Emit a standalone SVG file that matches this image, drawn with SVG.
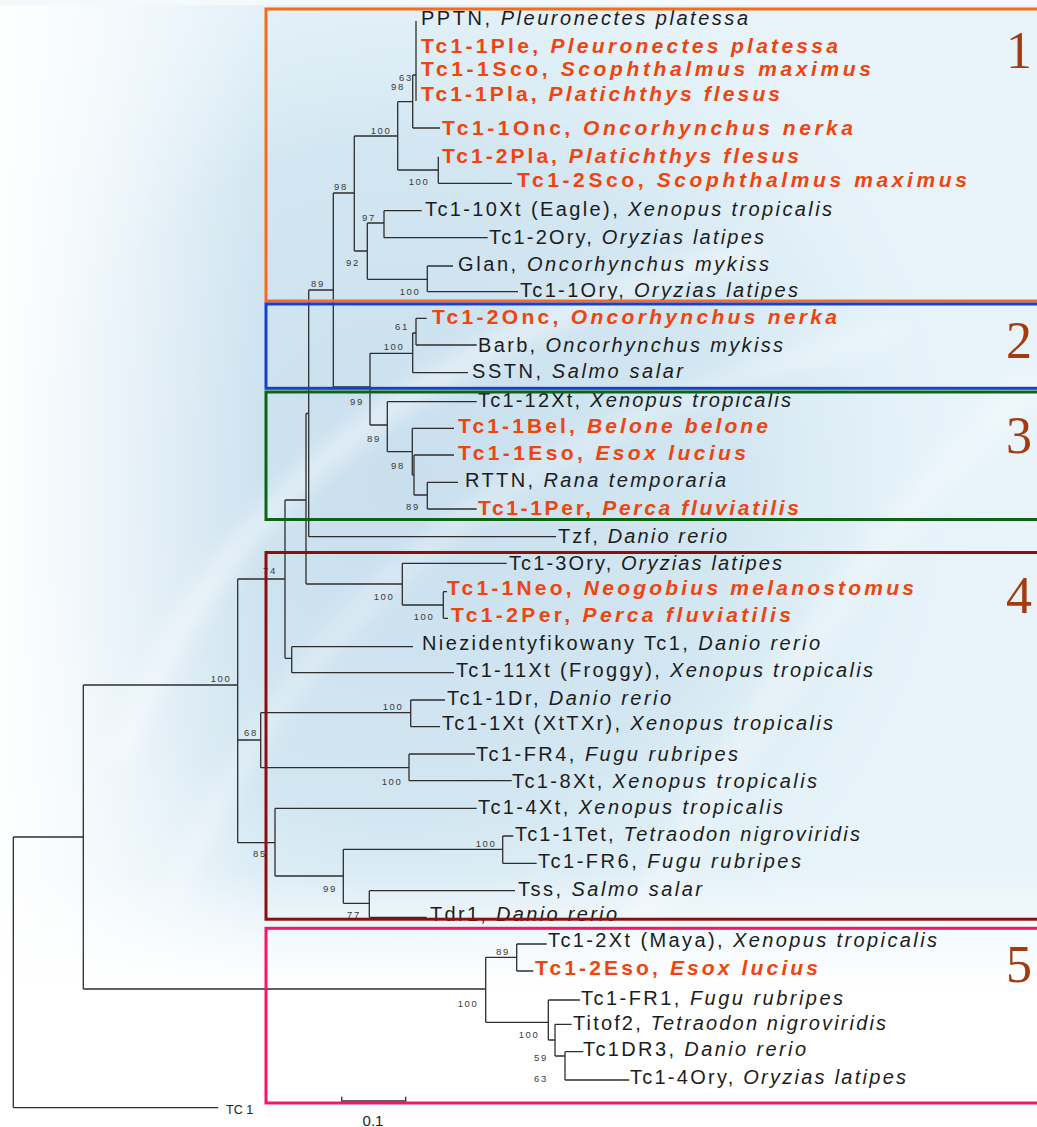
<svg xmlns="http://www.w3.org/2000/svg" width="1037" height="1127" viewBox="0 0 1037 1127">
<style>
.t{font-family:"Liberation Sans",Arial,sans-serif;font-size:20px;fill:#1c1c1c}
.r{font-weight:bold;fill:#f0440f;font-size:21px}
.i{font-style:italic}
.bs{font-family:"Liberation Sans",Arial,sans-serif;font-size:9.5px;fill:#3a3a3a;letter-spacing:1.6px;text-anchor:middle}
.num{font-family:"Liberation Serif","Times New Roman",serif;font-size:52px;fill:#a23c10;text-anchor:middle}
.br{fill:none;stroke:#2e2e2e;stroke-width:1.3}
.box{fill:none;stroke-width:3}
</style>
<defs>
<radialGradient id="glow" cx="400" cy="480" r="620" gradientUnits="userSpaceOnUse">
<stop offset="0" stop-color="#c9dfee"/>
<stop offset="0.55" stop-color="#d3e7f2"/>
<stop offset="1" stop-color="#e6f3f9" stop-opacity="0"/>
</radialGradient>
<linearGradient id="leftfade" x1="0" y1="0" x2="1" y2="0">
<stop offset="0" stop-color="#ffffff" stop-opacity="0.95"/>
<stop offset="0.4" stop-color="#ffffff" stop-opacity="0.6"/>
<stop offset="1" stop-color="#ffffff" stop-opacity="0"/>
</linearGradient>
<linearGradient id="botfade" x1="0" y1="0" x2="0" y2="1">
<stop offset="0" stop-color="#ffffff" stop-opacity="0"/>
<stop offset="1" stop-color="#ffffff" stop-opacity="1"/>
</linearGradient>
<filter id="blur" x="-20%" y="-20%" width="140%" height="140%"><feGaussianBlur stdDeviation="10"/></filter>
</defs>

<g id="background">
<rect x="0" y="0" width="1037" height="1127" fill="#e8f4fa"/>
<rect x="0" y="0" width="1037" height="1127" fill="url(#glow)"/>
<path d="M120 760 C 200 520, 420 330, 760 250" fill="none" stroke="#ffffff" stroke-opacity="0.45" stroke-width="22" filter="url(#blur)"/>
<path d="M170 900 C 300 600, 520 420, 900 330" fill="none" stroke="#ffffff" stroke-opacity="0.35" stroke-width="18" filter="url(#blur)"/>
<path d="M600 1000 C 750 700, 900 500, 1037 380" fill="none" stroke="#ffffff" stroke-opacity="0.3" stroke-width="30" filter="url(#blur)"/>
<rect x="0" y="0" width="260" height="1127" fill="url(#leftfade)"/>
<rect x="0" y="870" width="1037" height="120" fill="url(#botfade)"/>
<rect x="0" y="990" width="1037" height="137" fill="#ffffff"/>
<rect x="0" y="0" width="1037" height="5" fill="#f4f9fc"/>
</g>

<g id="connectors" class="br">
<path d="M416 21V101M412.7 75H416M412.7 75V128M412.7 128H440"/>
<path d="M397.7 101.7H412.7M397.7 101.7V170M397.7 170H438.3M438.3 156.7V183.3M438.3 183.3H512"/>
<path d="M354.3 136H397.7M354.3 136V251M354.3 251H367.3M367.3 223V279.3"/>
<path d="M367.3 223H384M384 210.7V237.7M384 210.7H421.7M384 237.7H487.7"/>
<path d="M367.3 279.3H427.3M427.3 266V291.7M427.3 266H453M427.3 291.7H518"/>
<path d="M333.3 193H354.3M333.3 193V387M333.3 387H370M370 353.3V425"/>
<path d="M370 353.3H412.7M412.7 333V372.7M412.7 333H416M416 318.3V345M416 318.3H426.7M416 345H476.7M412.7 372.7H468"/>
<path d="M370 425H387.3M387.3 401.7V451.7M387.3 401.7H476.7M387.3 451.7H412.3M412.3 428.3V475M412.3 428.3H454M412.3 475H414M414 455V495M414 455H454M414 495H427.3M427.3 482.3V509M427.3 482.3H458M427.3 509H476.7"/>
<path d="M308.7 290H333.3M308.7 290V536.7M308.7 536.7H556"/>
<path d="M306 413.5H308.7M306 413.5V584M306 584H402.3M402.3 563.3V605M402.3 563.3H506.7M402.3 605H443.3M443.3 591.7V618.3M443.3 591.7H447M443.3 618.3H448"/>
<path d="M285 500H306M285 500V658.3M285 658.3H291.7M291.7 646.7V672.7M291.7 646.7H413M291.7 672.7H454"/>
<path d="M237.7 579H285M237.7 579V842.7"/>
<path d="M237.7 740H260.7M260.7 712.7V767.7M260.7 712.7H410.7M410.7 700V726.7M410.7 700H445M410.7 726.7H440"/>
<path d="M260.7 767.7H409M409 754V780.7M409 754H475M409 780.7H511.7"/>
<path d="M237.7 842.7H275M275 808.3V876M275 808.3H476.7M275 876H343.3M343.3 849.3V903.3M343.3 849.3H502.7M502.7 836V863.3M502.7 836H513.3M502.7 863.3H536.7M343.3 903.3H369.3M369.3 890.7V917.3M369.3 890.7H515M369.3 917.3H426.7"/>
<path d="M83.3 685H237.7M83.3 685V989M83.3 989H485.7"/>
<path d="M485.7 957.3V1022.3M485.7 957.3H516.7M516.7 944V971M516.7 944H546.7M516.7 971H533.3"/>
<path d="M485.7 1022.3H548.3M548.3 1000V1040M548.3 1000H580M548.3 1040H555M555 1024.3V1056M555 1024.3H571.7M555 1056H565M565 1051.7V1080M565 1051.7H583.3M565 1080H629.3"/>
<path d="M13.3 837H83.3M13.3 837V1107.7M13.3 1107.7H218.3"/>
</g>

<g id="bootstrap">
<text class="bs" x="406" y="81">63</text>
<text class="bs" x="398" y="90">98</text>
<text class="bs" x="381" y="134">100</text>
<text class="bs" x="419" y="185">100</text>
<text class="bs" x="341" y="190">98</text>
<text class="bs" x="369" y="221">97</text>
<text class="bs" x="353" y="266">92</text>
<text class="bs" x="318" y="287">89</text>
<text class="bs" x="410" y="295">100</text>
<text class="bs" x="402" y="330">61</text>
<text class="bs" x="394" y="350">100</text>
<text class="bs" x="357" y="405">99</text>
<text class="bs" x="374" y="442">89</text>
<text class="bs" x="398" y="469">98</text>
<text class="bs" x="413" y="510">89</text>
<text class="bs" x="270" y="574">74</text>
<text class="bs" x="384" y="600">100</text>
<text class="bs" x="424" y="620">100</text>
<text class="bs" x="221" y="682">100</text>
<text class="bs" x="393" y="710">100</text>
<text class="bs" x="251" y="736">68</text>
<text class="bs" x="392" y="785">100</text>
<text class="bs" x="486" y="847">100</text>
<text class="bs" x="260" y="857">85</text>
<text class="bs" x="330" y="892">99</text>
<text class="bs" x="354" y="918">77</text>
<text class="bs" x="503" y="955">89</text>
<text class="bs" x="468" y="1007">100</text>
<text class="bs" x="529" y="1038">100</text>
<text class="bs" x="541" y="1061">59</text>
<text class="bs" x="541" y="1082">63</text>
</g>

<g id="leaves">
<g id="n-pptn"><text class="t" x="421" y="25" textLength="327" lengthAdjust="spacing">PPTN, <tspan class="i">Pleuronectes platessa</tspan></text></g>
<g id="n-tc1-1ple"><text class="t r" x="421" y="52.5" textLength="417" lengthAdjust="spacing">Tc1-1Ple, <tspan class="i">Pleuronectes platessa</tspan></text></g>
<g id="n-tc1-1sco"><text class="t r" x="421" y="75.5" textLength="450" lengthAdjust="spacing">Tc1-1Sco, <tspan class="i">Scophthalmus maximus</tspan></text></g>
<g id="n-tc1-1pla"><text class="t r" x="421" y="100.5" textLength="359" lengthAdjust="spacing">Tc1-1Pla, <tspan class="i">Platichthys flesus</tspan></text></g>
<g id="n-tc1-1onc"><text class="t r" x="442" y="135" textLength="411" lengthAdjust="spacing">Tc1-1Onc, <tspan class="i">Oncorhynchus nerka</tspan></text></g>
<g id="n-tc1-2pla"><text class="t r" x="442" y="163" textLength="357" lengthAdjust="spacing">Tc1-2Pla, <tspan class="i">Platichthys flesus</tspan></text></g>
<g id="n-tc1-2sco"><text class="t r" x="517" y="187" textLength="450" lengthAdjust="spacing">Tc1-2Sco, <tspan class="i">Scophthalmus maximus</tspan></text></g>
<g id="n-tc1-10xt"><text class="t" x="425" y="216" textLength="407" lengthAdjust="spacing">Tc1-10Xt (Eagle), <tspan class="i">Xenopus tropicalis</tspan></text></g>
<g id="n-tc1-2ory"><text class="t" x="489" y="243.5" textLength="275" lengthAdjust="spacing">Tc1-2Ory, <tspan class="i">Oryzias latipes</tspan></text></g>
<g id="n-glan"><text class="t" x="458" y="271" textLength="311" lengthAdjust="spacing">Glan, <tspan class="i">Oncorhynchus mykiss</tspan></text></g>
<g id="n-tc1-1ory"><text class="t" x="520" y="297" textLength="278" lengthAdjust="spacing">Tc1-1Ory, <tspan class="i">Oryzias latipes</tspan></text></g>
<g id="n-tc1-2onc"><text class="t r" x="432" y="323.5" textLength="405" lengthAdjust="spacing">Tc1-2Onc, <tspan class="i">Oncorhynchus nerka</tspan></text></g>
<g id="n-barb"><text class="t" x="478" y="351.5" textLength="305" lengthAdjust="spacing">Barb, <tspan class="i">Oncorhynchus mykiss</tspan></text></g>
<g id="n-sstn"><text class="t" x="472" y="377.5" textLength="211" lengthAdjust="spacing">SSTN, <tspan class="i">Salmo salar</tspan></text></g>
<g id="n-tc1-12xt"><text class="t" x="478" y="407" textLength="313" lengthAdjust="spacing">Tc1-12Xt, <tspan class="i">Xenopus tropicalis</tspan></text></g>
<g id="n-tc1-1bel"><text class="t r" x="458" y="433" textLength="310" lengthAdjust="spacing">Tc1-1Bel, <tspan class="i">Belone belone</tspan></text></g>
<g id="n-tc1-1eso"><text class="t r" x="458" y="459.5" textLength="288" lengthAdjust="spacing">Tc1-1Eso, <tspan class="i">Esox lucius</tspan></text></g>
<g id="n-rttn"><text class="t" x="465" y="487" textLength="261" lengthAdjust="spacing">RTTN, <tspan class="i">Rana temporaria</tspan></text></g>
<g id="n-tc1-1per"><text class="t r" x="478" y="515" textLength="321" lengthAdjust="spacing">Tc1-1Per, <tspan class="i">Perca fluviatilis</tspan></text></g>
<g id="n-tzf"><text class="t" x="558" y="543" textLength="169" lengthAdjust="spacing">Tzf, <tspan class="i">Danio rerio</tspan></text></g>
<g id="n-tc1-3ory"><text class="t" x="509" y="569.5" textLength="273" lengthAdjust="spacing">Tc1-3Ory, <tspan class="i">Oryzias latipes</tspan></text></g>
<g id="n-tc1-1neo"><text class="t r" x="447" y="595" textLength="467" lengthAdjust="spacing">Tc1-1Neo, <tspan class="i">Neogobius melanostomus</tspan></text></g>
<g id="n-tc1-2per"><text class="t r" x="451" y="621.5" textLength="340" lengthAdjust="spacing">Tc1-2Per, <tspan class="i">Perca fluviatilis</tspan></text></g>
<g id="n-niez"><text class="t" x="422" y="650" textLength="398" lengthAdjust="spacing">Niezidentyfikowany Tc1, <tspan class="i">Danio rerio</tspan></text></g>
<g id="n-tc1-11xt"><text class="t" x="456" y="677" textLength="417" lengthAdjust="spacing">Tc1-11Xt (Froggy), <tspan class="i">Xenopus tropicalis</tspan></text></g>
<g id="n-tc1-1dr"><text class="t" x="447" y="704.5" textLength="224" lengthAdjust="spacing">Tc1-1Dr, <tspan class="i">Danio rerio</tspan></text></g>
<g id="n-tc1-1xt"><text class="t" x="442" y="730" textLength="391" lengthAdjust="spacing">Tc1-1Xt (XtTXr), <tspan class="i">Xenopus tropicalis</tspan></text></g>
<g id="n-tc1-fr4"><text class="t" x="476" y="760.5" textLength="262" lengthAdjust="spacing">Tc1-FR4, <tspan class="i">Fugu rubripes</tspan></text></g>
<g id="n-tc1-8xt"><text class="t" x="512" y="787.5" textLength="305" lengthAdjust="spacing">Tc1-8Xt, <tspan class="i">Xenopus tropicalis</tspan></text></g>
<g id="n-tc1-4xt"><text class="t" x="478" y="813.5" textLength="305" lengthAdjust="spacing">Tc1-4Xt, <tspan class="i">Xenopus tropicalis</tspan></text></g>
<g id="n-tc1-1tet"><text class="t" x="515" y="841" textLength="345" lengthAdjust="spacing">Tc1-1Tet, <tspan class="i">Tetraodon nigroviridis</tspan></text></g>
<g id="n-tc1-fr6"><text class="t" x="538" y="867.5" textLength="263" lengthAdjust="spacing">Tc1-FR6, <tspan class="i">Fugu rubripes</tspan></text></g>
<g id="n-tss"><text class="t" x="518" y="896" textLength="184" lengthAdjust="spacing">Tss, <tspan class="i">Salmo salar</tspan></text></g>
<g id="n-tdr1"><text class="t" x="430" y="921" textLength="187" lengthAdjust="spacing">Tdr1, <tspan class="i">Danio rerio</tspan></text></g>
<g id="n-tc1-2xt"><text class="t" x="548" y="947" textLength="389" lengthAdjust="spacing">Tc1-2Xt (Maya), <tspan class="i">Xenopus tropicalis</tspan></text></g>
<g id="n-tc1-2eso"><text class="t r" x="535" y="975" textLength="283" lengthAdjust="spacing">Tc1-2Eso, <tspan class="i">Esox lucius</tspan></text></g>
<g id="n-tc1-fr1"><text class="t" x="581" y="1005" textLength="262" lengthAdjust="spacing">Tc1-FR1, <tspan class="i">Fugu rubripes</tspan></text></g>
<g id="n-titof2"><text class="t" x="573" y="1030" textLength="313" lengthAdjust="spacing">Titof2, <tspan class="i">Tetraodon nigroviridis</tspan></text></g>
<g id="n-tc1dr3"><text class="t" x="583" y="1056" textLength="223" lengthAdjust="spacing">Tc1DR3, <tspan class="i">Danio rerio</tspan></text></g>
<g id="n-tc1-4ory"><text class="t" x="630" y="1083.5" textLength="276" lengthAdjust="spacing">Tc1-4Ory, <tspan class="i">Oryzias latipes</tspan></text></g>
<g id="n-tc1-out"><text x="226" y="1114" font-family="Liberation Sans, Arial, sans-serif" font-size="12.5" fill="#222">TC 1</text></g>
</g>

<g id="scale">
<path class="br" d="M341.7 1096.7V1101H405.7V1096.7"/>
<text x="373" y="1126" font-family="Liberation Sans, Arial, sans-serif" font-size="15" fill="#222" text-anchor="middle">0.1</text>
</g>

<g id="clusters">
<g id="cluster-1"><rect class="box" x="266" y="9" width="800" height="292" stroke="#fa6a1c"/><text class="num" x="1019" y="68">1</text></g>
<g id="cluster-2"><rect class="box" x="266" y="304" width="800" height="84.3" stroke="#1840cc"/><text class="num" x="1019" y="358">2</text></g>
<g id="cluster-3"><rect class="box" x="266" y="392" width="800" height="127.5" stroke="#0c6414"/><text class="num" x="1019" y="453">3</text></g>
<g id="cluster-4"><rect class="box" x="266" y="552.5" width="800" height="366.7" stroke="#8a1010"/><text class="num" x="1019" y="613">4</text></g>
<g id="cluster-5"><rect class="box" x="266" y="928.3" width="800" height="174.7" stroke="#f5166a"/><text class="num" x="1019" y="982">5</text></g>
</g>
</svg>
